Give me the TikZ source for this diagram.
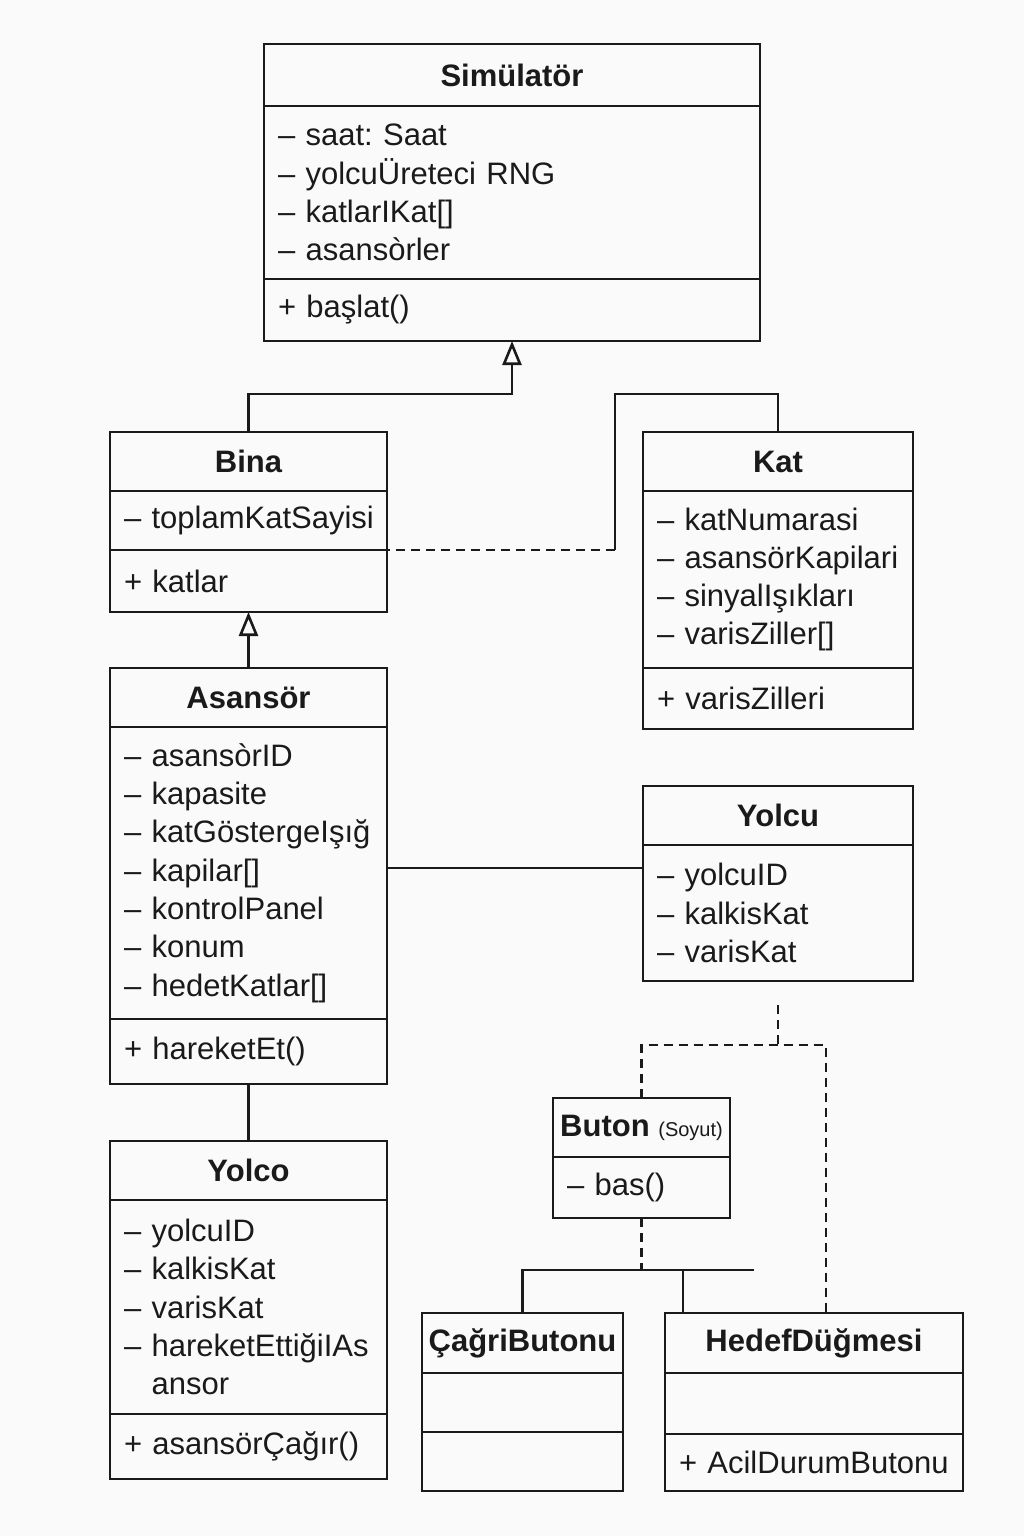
\documentclass[tikz,border=0pt]{standalone}
\usepackage{fontspec}
\setmainfont{Liberation Sans}
\usetikzlibrary{positioning,arrows.meta}
\newcommand\clstitle{\fontsize{31}{36}\selectfont\bfseries}
\newcommand\clsattr{\fontsize{31}{38.3}\selectfont\hyphenpenalty=10000\exhyphenpenalty=10000 }
\definecolor{ink}{HTML}{1A1A1A}
\definecolor{paper}{HTML}{FAFAFA}
\frenchspacing
\hbadness=10000 \hfuzz=40pt

\begin{document}
\begin{tikzpicture}[x=1pt,y=-1pt,
	every node/.style={text=ink},
	clsname/.style={draw=ink,line width=2.6pt,outer sep=0pt,inner sep=0pt,font=\clstitle,anchor=north west},
	clspart/.style={draw=ink,line width=2.6pt,outer sep=0pt,inner xsep=14pt,inner ysep=0pt,align=left,font=\clsattr},
	assoc/.style={draw=ink,line width=2.6pt},
	dep/.style={draw=ink,line width=2.6pt,dash pattern=on 9pt off 6pt},
	gen/.style={draw=ink,line width=2.6pt,-{Triangle[open,length=24pt,width=19pt]}}]
		\fill [paper] (0,0) rectangle (1024,1536);
		% Simulator
		\node [clsname,minimum width=496pt,minimum height=62pt] (sim) at (264,44) {Simülatör};
		\node [clspart,text width=468pt,minimum height=173pt,below=0pt of sim] (simattr) {– saat: Saat\\– yolcuÜreteci RNG\\– katlarIKat[]\\– asansòrler};
		\node [clspart,text width=468pt,minimum height=62pt,below=0pt of simattr] (simops) {+ başlat()};
		% Bina
		\node [clsname,minimum width=277pt,minimum height=59pt] (bina) at (110,432) {Bina};
		\node [clspart,text width=249pt,minimum height=59pt,below=0pt of bina] (binaattr) {\mbox{– toplamKatSayisi}};
		\node [clspart,text width=249pt,minimum height=62pt,below=0pt of binaattr] (binaops) {+ katlar};
		% Kat
		\node [clsname,minimum width=270pt,minimum height=59pt] (kat) at (643,432) {Kat};
		\node [clspart,text width=242pt,minimum height=177pt,below=0pt of kat] (katattr) {– katNumarasi\\– asansörKapilari\\– sinyalIşıkları\\– varisZiller[]};
		\node [clspart,text width=242pt,minimum height=61pt,below=0pt of katattr] (katops) {+ varisZilleri};
		% Asansor
		\node [clsname,minimum width=277pt,minimum height=59pt] (asn) at (110,668) {Asansör};
		\node [clspart,text width=249pt,minimum height=292pt,below=0pt of asn] (asnattr) {– asansòrID\\– kapasite\\\mbox{– katGöstergeIşığ}\\– kapilar[]\\– kontrolPanel\\– konum\\– hedetKatlar[]};
		\node [clspart,text width=249pt,minimum height=65pt,below=0pt of asnattr] (asnops) {+ hareketEt()};
		% Yolcu
		\node [clsname,minimum width=270pt,minimum height=59pt] (yolcu) at (643,786) {Yolcu};
		\node [clspart,text width=242pt,minimum height=136pt,below=0pt of yolcu] (yolcuattr) {– yolcuID\\– kalkisKat\\– varisKat};
		% Buton
		\node [clsname,minimum width=177pt,minimum height=59pt] (buton) at (553,1098) {Buton {\fontsize{20}{24}\selectfont\mdseries (Soyut)}};
		\node [clspart,text width=149pt,minimum height=61pt,below=0pt of buton] (butonattr) {– bas()};
		% Yolco
		\node [clsname,minimum width=277pt,minimum height=59pt] (yolco) at (110,1141) {Yolco};
		\node [clspart,text width=249pt,minimum height=214pt,below=0pt of yolco] (yolcoattr) {– yolcuID\\– kalkisKat\\– varisKat\\\mbox{– hareketEttiğiIAs}\\\hphantom{– }ansor};
		\node [clspart,text width=249pt,minimum height=65pt,below=0pt of yolcoattr] (yolcoops) {+ asansörÇağır()};
		% CagriButonu
		\node [clsname,minimum width=201pt,minimum height=60pt] (cagri) at (422,1313) {ÇağriButonu};
		\node [clspart,text width=173pt,minimum height=59pt,below=0pt of cagri] (cagriattr) {};
		\node [clspart,text width=173pt,minimum height=59pt,below=0pt of cagriattr] (cagriops) {};
		% HedefDugmesi
		\node [clsname,minimum width=298pt,minimum height=60pt] (hedef) at (665,1313) {HedefDüğmesi};
		\node [clspart,text width=270pt,minimum height=61pt,below=0pt of hedef] (hedefattr) {};
		\node [clspart,text width=270pt,minimum height=57pt,below=0pt of hedefattr] (hedefops) {+ AcilDurumButonu};
		% connectors
		\draw [gen] (bina.north) -- ++(0,-38) -| (simops.south);
		\coordinate (katbend) at (615,550);
		\draw [assoc] (kat.north) -- ++(0,-38) -| (katbend);
		\draw [dep] (katbend) -- (binaattr.south east);
		\draw [gen] (asn.north) -- (binaops.south);
		\coordinate (asnlvl) at (0,868);
		\draw [assoc] (asnattr.east |- asnlvl) -- (yolcuattr.west |- asnlvl);
		\draw [assoc] (asnops.south) -- (yolco.north);
		\coordinate (yolcufork) at (778,1045);
		\draw [dep] (yolcuattr.south) ++(0,24) -- (yolcufork);
		\draw [dep] (buton.north) |- (yolcufork) -| ([xshift=12pt]hedef.north);
		\coordinate (btnbar) at (754,1270);
		\coordinate (hedefjoin) at (683,1270);
		\draw [dep] (butonattr.south) -- (butonattr.south |- btnbar);
		\draw [assoc] (cagri.north) |- (btnbar);
		\draw [assoc] (hedefjoin) -- (hedefjoin |- hedef.north);
	\end{tikzpicture}
\end{document}
